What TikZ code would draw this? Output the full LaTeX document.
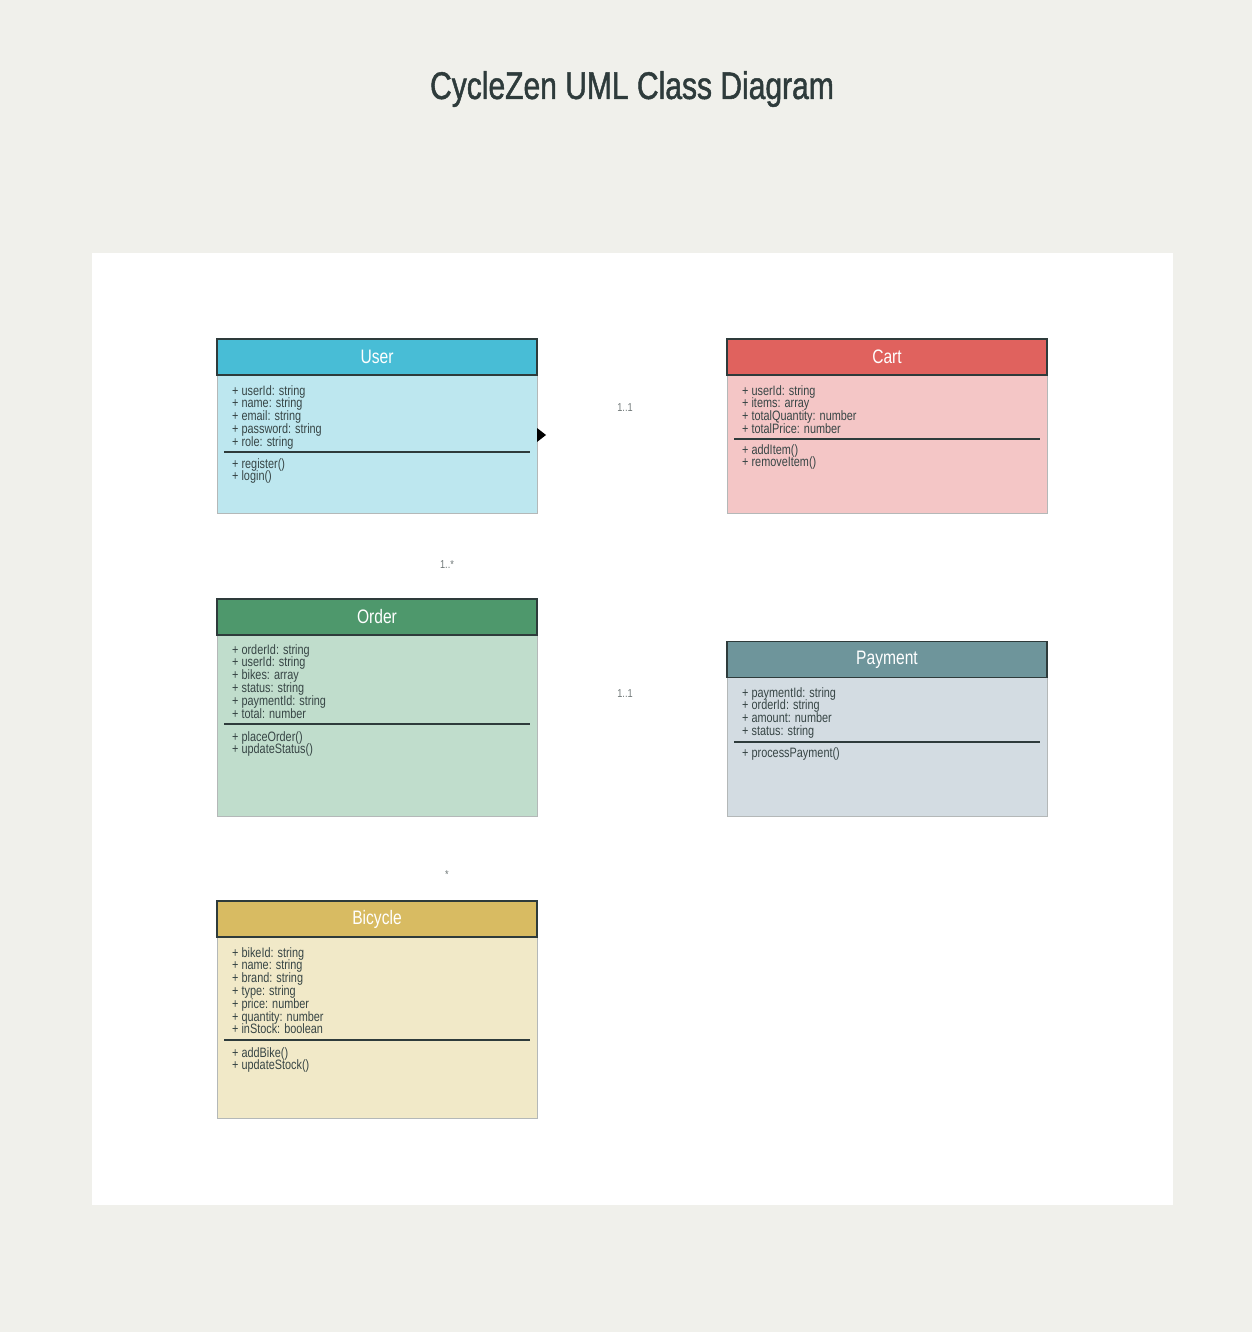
\documentclass[tikz,border=0pt]{standalone}
\usepackage{fontspec}
\setmainfont{Liberation Sans}[FakeStretch=0.8]
\newfontfamily\titlefont{Liberation Sans}[FakeStretch=0.78,FakeBold=1.2]
\begin{document}
\begin{tikzpicture}[x=1pt,y=-1pt,
  hdr/.style={draw=hdrline,line width=1.6pt,minimum width=320pt,minimum height=36pt,inner sep=0pt,
    text=white,font=\fontsize{19.5}{20}\selectfont},
  bodybox/.style={draw=bodyline,line width=0.8pt,minimum width=320pt,inner sep=0pt},
  members/.style={anchor=north west,align=left,inner sep=0pt,text=txt,
    font=\fontsize{13.6}{12.8}\selectfont},
  divider/.style={draw=hdrline,line width=1.1pt},
  mult/.style={text=multc,font=\fontsize{11.5}{12}\selectfont,inner sep=1pt}]
\definecolor{bg}{HTML}{F0F0EB}
\definecolor{hdrline}{HTML}{2E3B3B}
\definecolor{bodyline}{HTML}{B4B8B8}
\definecolor{txt}{HTML}{374545}
\definecolor{multc}{HTML}{707878}
\definecolor{userH}{HTML}{48BDD6}\definecolor{userB}{HTML}{BDE7EF}
\definecolor{cartH}{HTML}{E0625E}\definecolor{cartB}{HTML}{F4C6C6}
\definecolor{orderH}{HTML}{4E986C}\definecolor{orderB}{HTML}{C0DDCC}
\definecolor{payH}{HTML}{6E959B}\definecolor{payB}{HTML}{D3DCE2}
\definecolor{bikeH}{HTML}{D8BB62}\definecolor{bikeB}{HTML}{F1E9C8}

% page and white panel
\fill[bg] (0,0) rectangle (1252,1332);
\useasboundingbox (0,0) rectangle (1252,1332);
\fill[white] (92,253) rectangle (1173,1205);

% title
\node (title) at (632,89) {\titlefont\fontsize{38.5}{40}\selectfont\color{hdrline}CycleZen UML Class Diagram};

% ---------- User ----------
\node[bodybox,fill=userB,minimum height=138pt] (user-body) at (377,444) {};
\node[hdr,fill=userH] (user) at (377,357) {User};
\node[members] (user-attr) at (232,385) {+ userId: string\\+ name: string\\+ email: string\\+ password: string\\+ role: string};
\draw[divider] (224,452) -- (530,452);
\node[members] (user-ops) at (232,458) {+ register()\\+ login()};

% ---------- Cart ----------
\node[bodybox,fill=cartB,minimum height=138pt] (cart-body) at (887,444) {};
\node[hdr,fill=cartH] (cart) at (887,357) {Cart};
\node[members] (cart-attr) at (742,385) {+ userId: string\\+ items: array\\+ totalQuantity: number\\+ totalPrice: number};
\draw[divider] (734,439) -- (1040,439);
\node[members] (cart-ops) at (742,444) {+ addItem()\\+ removeItem()};

% ---------- Order ----------
\node[bodybox,fill=orderB,minimum height=181pt] (order-body) at (377,725.5) {};
\node[hdr,fill=orderH] (order) at (377,617) {Order};
\node[members] (order-attr) at (232,644) {+ orderId: string\\+ userId: string\\+ bikes: array\\+ status: string\\+ paymentId: string\\+ total: number};
\draw[divider] (224,724) -- (530,724);
\node[members] (order-ops) at (232,731) {+ placeOrder()\\+ updateStatus()};

% ---------- Payment ----------
\node[bodybox,fill=payB,minimum height=139pt] (pay-body) at (887,746.5) {};
\node[hdr,fill=payH] (payment) at (887,659.5) {Payment};
\node[members] (pay-attr) at (742,687) {+ paymentId: string\\+ orderId: string\\+ amount: number\\+ status: string};
\draw[divider] (734,742) -- (1040,742);
\node[members] (pay-ops) at (742,747) {+ processPayment()};

% ---------- Bicycle ----------
\node[bodybox,fill=bikeB,minimum height=181pt] (bike-body) at (377,1027.5) {};
\node[hdr,fill=bikeH] (bicycle) at (377,919) {Bicycle};
\node[members] (bike-attr) at (232,947) {+ bikeId: string\\+ name: string\\+ brand: string\\+ type: string\\+ price: number\\+ quantity: number\\+ inStock: boolean};
\draw[divider] (224,1040) -- (530,1040);
\node[members] (bike-ops) at (232,1047) {+ addBike()\\+ updateStock()};

% association arrowhead at the User side and multiplicities
\fill[black] (537,428) -- (546,435) -- (537,442) -- cycle;
\node[mult] (m-usercart) at (625,408) {1..1};
\node[mult] (m-userorder) at (447,565) {1..*};
\node[mult] (m-orderpay) at (625,694) {1..1};
\node[mult] (m-orderbike) at (447,875) {*};
\end{tikzpicture}
\end{document}
